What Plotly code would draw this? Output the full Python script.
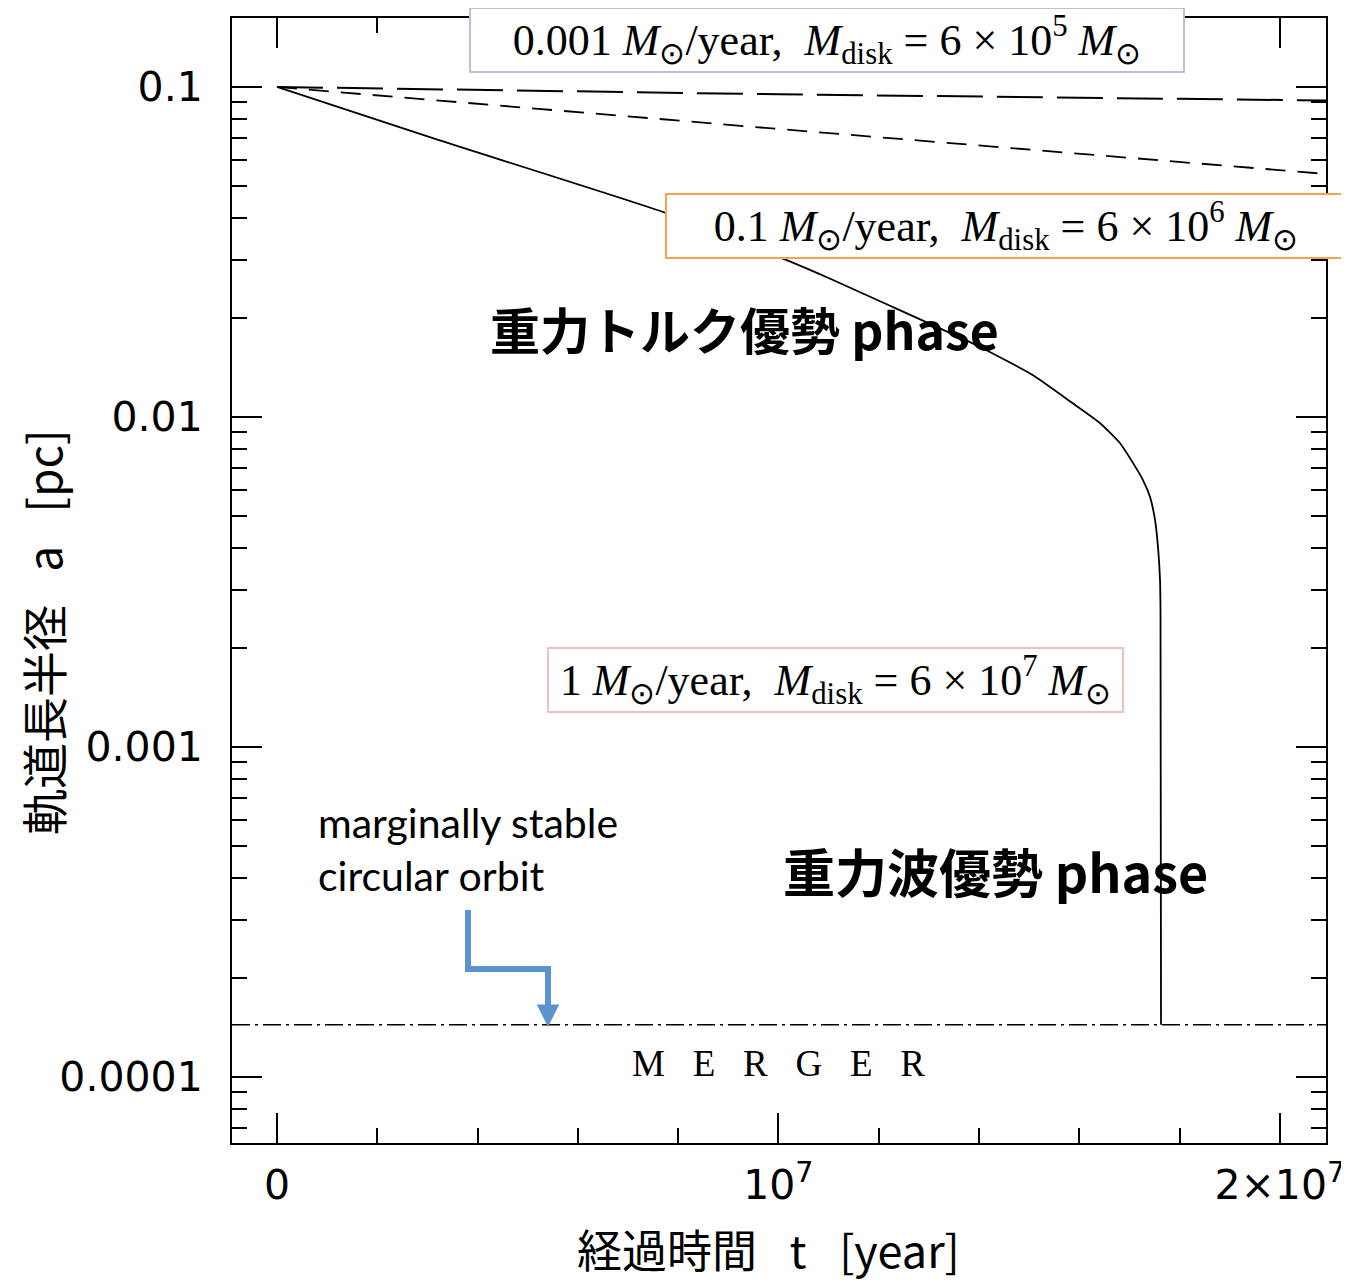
import plotly.graph_objects as go

# ---- data ----
t_range = [-0.0897e7, 2.092e7]
loga_range = [-4.2, -0.791]

t_slow = [0, 1.0e7, 2.092e7]
a_slow = [0.1, 0.095, 0.091]

t_mid = [0, 1.0e7, 2.092e7]
a_mid = [0.1, 0.0746, 0.0545]

t_fast = [0, 3.23e6, 7.76e6, 1.025e7, 1.109e7, 1.206e7, 1.402e7, 1.507e7, 1.587e7,
          1.641e7, 1.681e7, 1.707e7, 1.727e7, 1.741e7, 1.751e7, 1.757e7, 1.761e7,
          1.762e7, 1.763e7]
a_fast = [0.1, 0.069, 0.0415, 0.0295, 0.0260, 0.0223, 0.0163, 0.0134, 0.0110,
          0.00959, 0.00834, 0.00726, 0.00644, 0.00573, 0.00488, 0.00403, 0.00321,
          0.00255, 1.44e-4]

a_merger = 1.44e-4

x_tickvals = [0, 1e7, 2e7]
x_ticktext = ["0", "10<sup>7</sup>", "2×10<sup>7</sup>"]
x_minor = [2e6, 4e6, 6e6, 8e6, 1.2e7, 1.4e7, 1.6e7, 1.8e7]
y_tickvals = [1e-4, 1e-3, 1e-2, 1e-1]
y_ticktext = ["0.0001", "0.001", "0.01", "0.1"]
y_minor = [k * 10.0 ** n for n in range(-5, 0) for k in range(2, 10)]

# page has an 8px body margin; size the figure so the plot lands where the reference has it
OFF = 8
W, H = 1349 - OFF, 1281 - OFF
ML, MR, MT, MB = 232 - OFF, 23, 18 - OFF, 138
PW, PH = W - ML - MR, H - MT - MB


def px(x):  # page pixel -> paper fraction
    return (x - OFF - ML) / PW


def py(y):
    return (H - MB - (y - OFF)) / PH


fig = go.Figure()
fig.add_trace(go.Scatter(x=t_slow, y=a_slow, mode="lines",
                         line=dict(color="black", width=2, dash="46px,14px"),
                         showlegend=False))
fig.add_trace(go.Scatter(x=t_mid, y=a_mid, mode="lines",
                         line=dict(color="black", width=1.8, dash="20px,12px"),
                         showlegend=False))
fig.add_trace(go.Scatter(x=t_fast, y=a_fast, mode="lines",
                         line=dict(color="black", width=1.8, shape="spline", smoothing=0.5),
                         showlegend=False))
fig.add_trace(go.Scatter(x=t_range, y=[a_merger, a_merger], mode="lines",
                         line=dict(color="black", width=1.4, dash="18px,5px,3px,5px"),
                         showlegend=False))

tickfont = dict(family="DejaVu Sans", size=41, color="black")

fig.update_xaxes(range=t_range, tickmode="array", tickvals=x_tickvals, ticktext=x_ticktext,
                 ticks="inside", ticklen=30, tickwidth=1.5, tickcolor="black",
                 mirror="allticks", showline=True, linewidth=2, linecolor="black",
                 showgrid=False, zeroline=False, tickfont=tickfont, ticklabelstandoff=5,
                 automargin=False,
                 minor=dict(tickmode="array", tickvals=x_minor, ticks="inside",
                            ticklen=15, tickwidth=1.5, tickcolor="black", showgrid=False))
fig.update_yaxes(type="log", range=loga_range, tickmode="array", tickvals=y_tickvals,
                 ticktext=y_ticktext, ticks="inside", ticklen=30, tickwidth=1.5,
                 tickcolor="black", mirror="allticks", showline=True, linewidth=2,
                 linecolor="black", showgrid=False, zeroline=False, tickfont=tickfont,
                 ticklabelstandoff=19, automargin=False,
                 minor=dict(tickmode="array", tickvals=y_minor, ticks="inside",
                            ticklen=15, tickwidth=1.5, tickcolor="black", showgrid=False))

serif = dict(family="Liberation Serif", size=44, color="black")
M = "<i>M</i><sub>⊙</sub>"
Md = "<i>M</i><sub>disk</sub>"
SP = "\u2002"
boxes = [
    ("0.001 " + M + "/year," + SP + Md + " = 6 × 10<sup>5</sup> " + M, 827, 40, "#c7b9dc", 700),
    ("0.1 " + M + "/year," + SP + Md + " = 6 × 10<sup>6</sup> " + M, 1006, 226, "#f5a24e", 666),
    ("1 " + M + "/year," + SP + Md + " = 6 × 10<sup>7</sup> " + M, 835, 680, "#ebc0c0", 561),
]
annotations = []
for txt, cx, cy, col, w in boxes:
    annotations.append(dict(text=txt, x=px(cx), y=py(cy), xref="paper", yref="paper",
                            showarrow=False, font=serif, bgcolor="white",
                            bordercolor=col, borderwidth=2, borderpad=6,
                            width=w, height=50, xanchor="center", yanchor="middle"))


def label(text, cx, cy, font, **kw):
    d = dict(text=text, x=px(cx), y=py(cy), xref="paper", yref="paper", showarrow=False,
             font=font, xanchor="center", yanchor="middle")
    d.update(kw)
    annotations.append(d)


label("<b>重力トルク優勢 phase</b>", 744, 328,
      dict(family="Noto Sans CJK JP", size=50, color="black"))
label("<b>重力波優勢 phase</b>", 995, 870,
      dict(family="Noto Sans CJK JP", size=52, color="black"))
label("marginally stable<br>circular orbit", 316, 849,
      dict(family="Lato", size=41, color="black"), xanchor="left", align="left")
label("M\u2002 E\u2002 R\u2002 G\u2002 E\u2002 R", 778, 1063,
      dict(family="Liberation Serif", size=37, color="black"))
label("経過時間\u2002 t\u2002 [year]", 768, 1248,
      dict(family="Noto Sans CJK JP", size=45, color="black"), borderpad=0)
label("軌道長半径\u2002 a\u2002 [pc]", 42, 632,
      dict(family="Noto Sans CJK JP", size=46, color="black"), textangle=-90)

# arrow head
blue = "#5b93cc"
annotations.append(dict(x=px(548), y=py(1027), ax=0, ay=-32, xref="paper",
                        yref="paper", axref="pixel", ayref="pixel", text="",
                        showarrow=True, arrowhead=2, arrowsize=0.9, arrowwidth=5,
                        arrowcolor=blue))

shapes = [dict(type="path", xref="paper", yref="paper",
               path="M %f,%f L %f,%f L %f,%f L %f,%f" % (px(468), py(910), px(468), py(969),
                                                          px(548), py(969), px(548), py(1005)),
               line=dict(color=blue, width=6))]

fig.update_layout(width=W, height=H, margin=dict(l=ML, r=MR, t=MT, b=MB),
                  plot_bgcolor="white", paper_bgcolor="white",
                  annotations=annotations, shapes=shapes)

fig.write_html("out.html")
